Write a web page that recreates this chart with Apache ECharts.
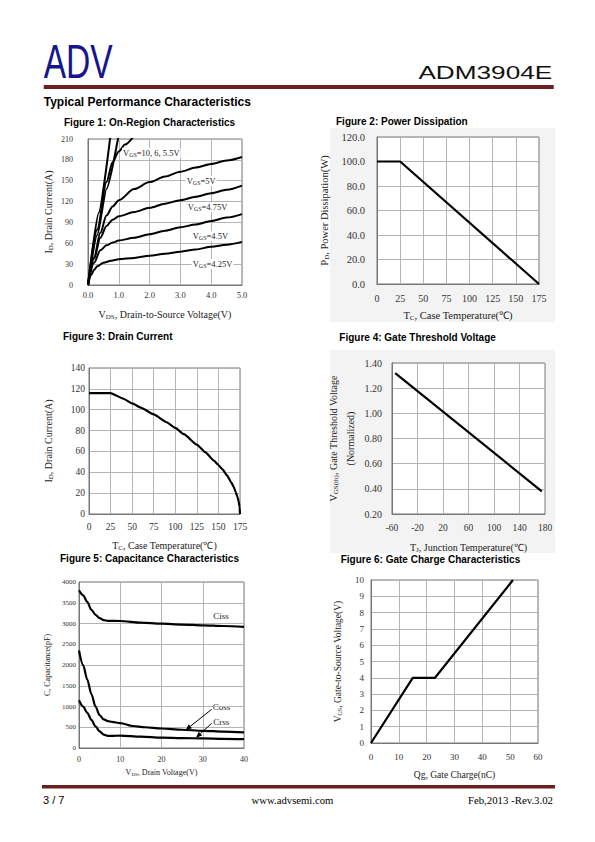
<!DOCTYPE html>
<html><head><meta charset="utf-8">
<script src="https://cdn.jsdelivr.net/npm/echarts@6/dist/echarts.min.js"></script>
<style>
html,body{margin:0;padding:0;background:#fff}
#wrap{position:relative;width:595px;height:842px}
.gray{position:absolute;background:#f3f3f3}
#c{position:absolute;left:0;top:0;width:595px;height:842px}
</style>
</head><body>
<div id="wrap">
<div class="gray" style="left:330px;top:128px;width:225px;height:194px"></div>
<div class="gray" style="left:330px;top:350px;width:225px;height:203px"></div>
<div id="c"></div>
</div>
<script>
// ---------- Figure 1: On-Region Characteristics ----------
const fig1_vgs10_vds = [0, 0.35, 0.72];
const fig1_vgs10_id  = [0, 104, 212];
const fig1_vgs6_vds  = [0, 0.3, 0.6, 0.98];
const fig1_vgs6_id   = [0, 72, 138, 212];
const fig1_vgs55_vds = [0, 0.3, 0.6, 0.8, 1.0, 1.2, 1.45];
const fig1_vgs55_id  = [0, 80, 148, 177, 192, 202, 212];
const fig1_vgs5_vds  = [0, 0.2, 0.4, 0.6, 0.8, 1.0, 1.5, 2.0, 2.5, 3.0, 3.5, 4.0, 4.5, 5.0];
const fig1_vgs5_id   = [0, 40, 75, 100, 113, 122, 138, 148, 156, 163, 169, 174, 179, 184];
const fig1_vgs475_vds = [0, 0.2, 0.4, 0.6, 0.8, 1.0, 1.5, 2.0, 2.5, 3.0, 3.5, 4.0, 4.5, 5.0];
const fig1_vgs475_id  = [0, 38, 68, 85, 94, 99, 105, 111, 117, 122, 127, 132, 137, 143];
const fig1_vgs45_vds = [0, 0.2, 0.4, 0.6, 0.8, 1.0, 1.5, 2.0, 2.5, 3.0, 3.5, 4.0, 4.5, 5.0];
const fig1_vgs45_id  = [0, 32, 50, 57, 61, 64, 68, 73, 78, 83, 87, 92, 97, 102];
const fig1_vgs425_vds = [0, 0.1, 0.2, 0.3, 0.5, 0.75, 1.0, 1.5, 2.0, 2.5, 3.0, 3.5, 4.0, 4.5, 5.0];
const fig1_vgs425_id  = [0, 14, 22, 27, 32, 35, 37, 39, 42, 45, 48, 51, 55, 58, 62];

// ---------- Figure 2: Power Dissipation ----------
const fig2_tc = [0, 25, 175];
const fig2_pd = [100, 100, 0];

// ---------- Figure 3: Drain Current ----------
const fig3_tc = [0, 25, 40, 50, 60, 75, 90, 100, 110, 125, 135, 145, 150, 155, 160, 165, 168, 170, 172, 173.5, 174.5, 175];
const fig3_id = [116, 116, 110.5, 106, 102, 95.5, 88, 82.5, 76.5, 66.5, 59, 51, 47, 42.5, 37, 30, 25.5, 21, 16.5, 12, 7, 0];

// ---------- Figure 4: Gate Threshold Voltage ----------
const fig4_tj  = [-55, 175];
const fig4_vth = [1.32, 0.38];
const fig4_tick_min = -60; // first tick label of the temperature axis

// ---------- Figure 5: Capacitance ----------
const fig5_ciss_v = [0, 1, 2, 3, 4, 5, 6, 7, 10, 15, 20, 25, 30, 35, 40];
const fig5_ciss   = [3800, 3680, 3520, 3330, 3210, 3130, 3080, 3065, 3060, 3020, 2995, 2975, 2955, 2940, 2920];
const fig5_coss_v = [0, 1, 2, 3, 4, 5, 6, 7, 8, 10, 13, 16, 20, 25, 30, 35, 40];
const fig5_coss   = [2350, 2000, 1650, 1300, 1000, 790, 690, 650, 630, 600, 530, 500, 470, 440, 415, 395, 375];
const fig5_crss_v = [0, 1, 2, 3, 4, 5, 6, 7, 8, 10, 15, 20, 25, 30, 35, 40];
const fig5_crss   = [1150, 1000, 850, 680, 520, 400, 320, 290, 290, 300, 275, 250, 240, 230, 222, 215];

// ---------- Figure 6: Gate Charge ----------
const fig6_qg  = [0, 15, 23, 51];
const fig6_vgs = [0, 4, 4, 10];

const SERIF = "'Liberation Serif','Times New Roman',serif";
const SANS = "'Liberation Sans',Arial,sans-serif";
const zip = (xs, ys) => xs.map((x, i) => [x, ys[i]]);
function rich(size) {
  return {
    n: { fontSize: size, fontFamily: SERIF, color: '#222', lineHeight: size * 1.7 },
    s: { fontSize: Math.round(size * 0.68), fontFamily: SERIF, color: '#222', padding: [Math.round(size * 0.5), 0, 0, 0] }
  };
}
function nm(main, sub, rest) { return '{n|' + main + '}' + (sub ? '{s|' + sub + '}' : '') + '{n|' + rest + '}'; }

function axisCommon(gi, min, max, interval, fmt, fs, margin, name, ns, gap) {
  return {
    type: 'value', gridIndex: gi, min: min, max: max, interval: interval,
    axisLabel: { formatter: fmt, fontSize: fs, margin: margin, fontFamily: SERIF, color: '#333' },
    axisTick: { show: false },
    axisLine: { show: true, lineStyle: { color: '#777', width: 1 } },
    splitLine: { show: true, lineStyle: { color: '#b4b4b4', width: 1 } },
    name: name, nameLocation: 'middle', nameGap: gap,
    nameTextStyle: { fontSize: ns, fontFamily: SERIF, color: '#222', rich: rich(ns) }
  };
}
function yAxis(...a) { const o = axisCommon(...a); o.nameRotate = 90; return o; }

const grids = [
  { left: 88, top: 139, width: 154, height: 146 },
  { left: 377, top: 137, width: 162, height: 147 },
  { left: 89, top: 368, width: 151, height: 146 },
  { left: 392, top: 363, width: 153, height: 151 },
  { left: 79, top: 582, width: 165, height: 166 },
  { left: 371, top: 580, width: 167, height: 163 }
].map(g => Object.assign({ show: true, borderColor: '#777', borderWidth: 1, backgroundColor: '#fff' }, g));

const f1 = v => v.toFixed(1);
const f2 = v => v.toFixed(2);
const f0 = v => String(Math.round(v));
// Fig 4 axis counts from 0 (offset by the first tick) so ticks fall every 40 from -60
const f4x = v => String(Math.round(v + fig4_tick_min));

const xAxes = [
  axisCommon(0, 0, 5, 1, f1, 8.5, 5, nm('V', 'DS', ', Drain-to-Source Voltage(V)'), 10, 21),
  axisCommon(1, 0, 175, 25, f0, 10, 9, nm('T', 'C', ', Case Temperature(℃)'), 10.5, 23),
  axisCommon(2, 0, 175, 25, f0, 9.5, 8, nm('T', 'C', ', Case Temperature(℃)'), 10, 23),
  axisCommon(3, 0, 240, 40, f4x, 9.5, 9, nm('T', 'J', ', Junction Temperature(℃)'), 10, 25),
  axisCommon(4, 0, 40, 10, f0, 8, 7, nm('V', 'DS', ', Drain Voltage(V)'), 8, 18),
  axisCommon(5, 0, 60, 10, f0, 9, 9, nm('Qg, Gate Charge(nC)', '', ''), 9.5, 24)
];
const yAxes = [
  yAxis(0, 0, 210, 30, f0, 8, 15, nm('I', 'D', ', Drain Current(A)'), 10, 31),
  yAxis(1, 0, 120, 20, f1, 10.5, 12, nm('P', 'D', ', Power Dissipation(W)'), 10.5, 44),
  yAxis(2, 0, 140, 20, f0, 9.5, 4, nm('I', 'D', ', Drain Current(A)'), 10, 32),
  yAxis(3, 0.2, 1.4, 0.2, f2, 10, 10, nm('V', 'GS(th)', ', Gate Threshold Voltage') + '\n{n|(Normalized)}', 10, 33),
  yAxis(4, 0, 4000, 500, f0, 7, 3, nm('C, Capacitance(pF)', '', ''), 8, 25),
  yAxis(5, 0, 10, 1, f0, 9, 7, nm('V', 'GS', ', Gate-to-Source Voltage(V)'), 9.5, 25)
];

function line(gi, data, smooth, width) {
  return {
    type: 'line', xAxisIndex: gi, yAxisIndex: gi, data: data, showSymbol: false, symbol: 'none',
    smooth: smooth || false, smoothMonotone: 'x', clip: true,
    lineStyle: { color: '#000', width: width || 2 }, silent: true, animation: false
  };
}

const series = [
  line(0, zip(fig1_vgs10_vds, fig1_vgs10_id), 0.2),
  line(0, zip(fig1_vgs6_vds, fig1_vgs6_id), 0.2),
  line(0, zip(fig1_vgs55_vds, fig1_vgs55_id), 0.3),
  line(0, zip(fig1_vgs5_vds, fig1_vgs5_id), 0.3),
  line(0, zip(fig1_vgs475_vds, fig1_vgs475_id), 0.3),
  line(0, zip(fig1_vgs45_vds, fig1_vgs45_id), 0.3),
  line(0, zip(fig1_vgs425_vds, fig1_vgs425_id), 0.3),
  line(1, zip(fig2_tc, fig2_pd), false, 2.2),
  line(2, zip(fig3_tc, fig3_id), 0.15, 2.2),
  line(3, zip(fig4_tj.map(t => t - fig4_tick_min), fig4_vth), false, 2.2),
  line(4, zip(fig5_ciss_v, fig5_ciss), 0.3, 2.2),
  line(4, zip(fig5_coss_v, fig5_coss), 0.3, 2.2),
  line(4, zip(fig5_crss_v, fig5_crss), 0.3, 2.2),
  line(5, zip(fig6_qg, fig6_vgs), false, 2.2)
];

// ----- text / decoration graphics -----
function txt(text, x, y, font, opts) {
  return Object.assign({ type: 'text', x: x, y: y, silent: true,
    style: Object.assign({ text: text, font: font, fill: '#000', verticalAlign: 'middle', align: 'left' }, opts || {}) });
}
function labelRich(text, x, y, size) {
  return { type: 'text', x: x, y: y, silent: true, z: 50,
    style: { text: text, verticalAlign: 'middle', align: 'left', backgroundColor: '#fff', padding: [0, 1],
      rich: { n: { fontSize: size, fontFamily: SERIF, fill: '#222' },
              s: { fontSize: Math.round(size * 0.68), fontFamily: SERIF, fill: '#222', padding: [4, 0, 0, 0] } } } };
}
function arrow(x1, y1, x2, y2) {
  const dx = x2 - x1, dy = y2 - y1, L = Math.hypot(dx, dy), ux = dx / L, uy = dy / L;
  const hl = 6, hw = 2.6;
  const bx = x2 - ux * hl, by = y2 - uy * hl;
  return [
    { type: 'line', silent: true, z: 50, shape: { x1: x1, y1: y1, x2: bx, y2: by }, style: { stroke: '#000', lineWidth: 1 } },
    { type: 'polygon', silent: true, z: 50, shape: { points: [[x2, y2], [bx - uy * hw, by + ux * hw], [bx + uy * hw, by - ux * hw]] }, style: { fill: '#000' } }
  ];
}
const TB = 'bold 10px ' + SANS;
const graphics = [
  // header
  Object.assign(txt('ADV', 0, 0, "48px 'Liberation Sans',Arial,sans-serif", { fill: '#16168a' }), { x: 43.7, y: 61.6, scaleX: 0.7 }),
  Object.assign(txt('ADM3904E', 0, 0, '18.7px ' + SANS, { fill: '#111' }), { x: 418.4, y: 72.1, scaleX: 1.4 }),
  { type: 'rect', silent: true, shape: { x: 43.7, y: 84.9, width: 510, height: 4 }, style: { fill: '#6b2020' } },
  txt('Typical Performance Characteristics', 43.7, 102, 'bold 12px ' + SANS),
  // figure titles
  txt('Figure 1: On-Region Characteristics', 64, 122, TB),
  txt('Figure 2: Power Dissipation', 336, 121, TB),
  txt('Figure 3: Drain Current', 63, 336, TB),
  txt('Figure 4: Gate Threshold Voltage', 339.3, 337, TB),
  txt('Figure 5: Capacitance Characteristics', 60, 558, TB),
  txt('Figure 6: Gate Charge Characteristics', 340.7, 559.5, TB),
  // figure 1 labels
  labelRich('{n|V}{s|GS}{n|=10, 6, 5.5V}', 122, 152.7, 8.5),
  labelRich('{n|V}{s|GS}{n|=5V}', 185.7, 181, 8.5),
  labelRich('{n|V}{s|GS}{n|=4.75V}', 186.7, 207.3, 8.5),
  labelRich('{n|V}{s|GS}{n|=4.5V}', 191.7, 236, 8.5),
  labelRich('{n|V}{s|GS}{n|=4.25V}', 191.7, 264, 8.5),
  // figure 5 labels
  txt('Ciss', 213.3, 615.7, '9px ' + SERIF, { fill: '#222' }),
  txt('Coss', 212.7, 706.7, '9px ' + SERIF, { fill: '#222' }),
  txt('Crss', 213.3, 722, '9px ' + SERIF, { fill: '#222' }),
  ...arrow(211.7, 709.3, 185.7, 730),
  ...arrow(211.7, 723.3, 196, 737.7),
  // footer
  { type: 'rect', silent: true, shape: { x: 42, y: 785, width: 513, height: 3.5 }, style: { fill: '#6b2020' } },
  txt('3 / 7', 43, 799.5, '11px ' + SANS),
  txt('www.advsemi.com', 292.5, 799.5, '10.7px ' + SERIF, { align: 'center' }),
  txt('Feb,2013 -Rev.3.02', 553, 799.5, '10.8px ' + SERIF, { align: 'right' })
];

const chart = echarts.init(document.getElementById('c'), null, { renderer: 'svg', width: 595, height: 842 });
chart.setOption({
  animation: false,
  backgroundColor: 'transparent',
  grid: grids,
  xAxis: xAxes,
  yAxis: yAxes,
  series: series,
  graphic: { elements: graphics }
});
</script>
</body></html>
